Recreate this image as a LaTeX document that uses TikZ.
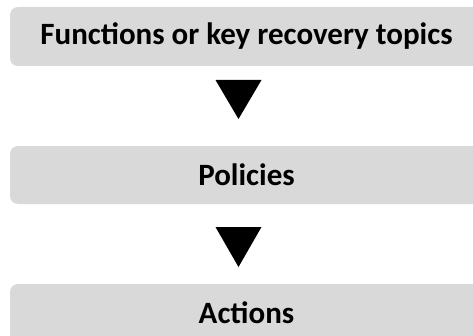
\documentclass[tikz,border=0pt]{standalone}
\usepackage{fontspec}
\setmainfont{Carlito}
\usetikzlibrary{positioning}
\definecolor{boxgray}{HTML}{D9D9D9}
\tikzset{
  stage/.style={fill=boxgray,rounded corners=8pt,minimum width=473pt,minimum height=58pt,
    inner sep=0pt,font=\fontsize{31}{36}\selectfont\bfseries},
  pointer/.style={fill=black}
}
\begin{document}
\begin{tikzpicture}[x=1pt,y=1pt]
  \useasboundingbox (0,0) rectangle (473,335);
  \clip (0,0) rectangle (473,335);
  \node[stage,minimum height=59pt] (funcs) at (246.5,298.5) {Functions or key recovery topics};
  \node[stage] (policies) at (246.5,160) {Policies};
  \node[stage] (actions) at (246.5,22) {Actions};
  % down pointers between the stages
  \coordinate (p1) at (238.5,255);
  \coordinate (p2) at (238.5,108);
  \fill[pointer] (p1) ++(-23,0) -- ++(46,0) -- ++(-23,-39) -- cycle;
  \fill[pointer] (p2) ++(-23,0) -- ++(46,0) -- ++(-23,-40) -- cycle;
\end{tikzpicture}
\end{document}
